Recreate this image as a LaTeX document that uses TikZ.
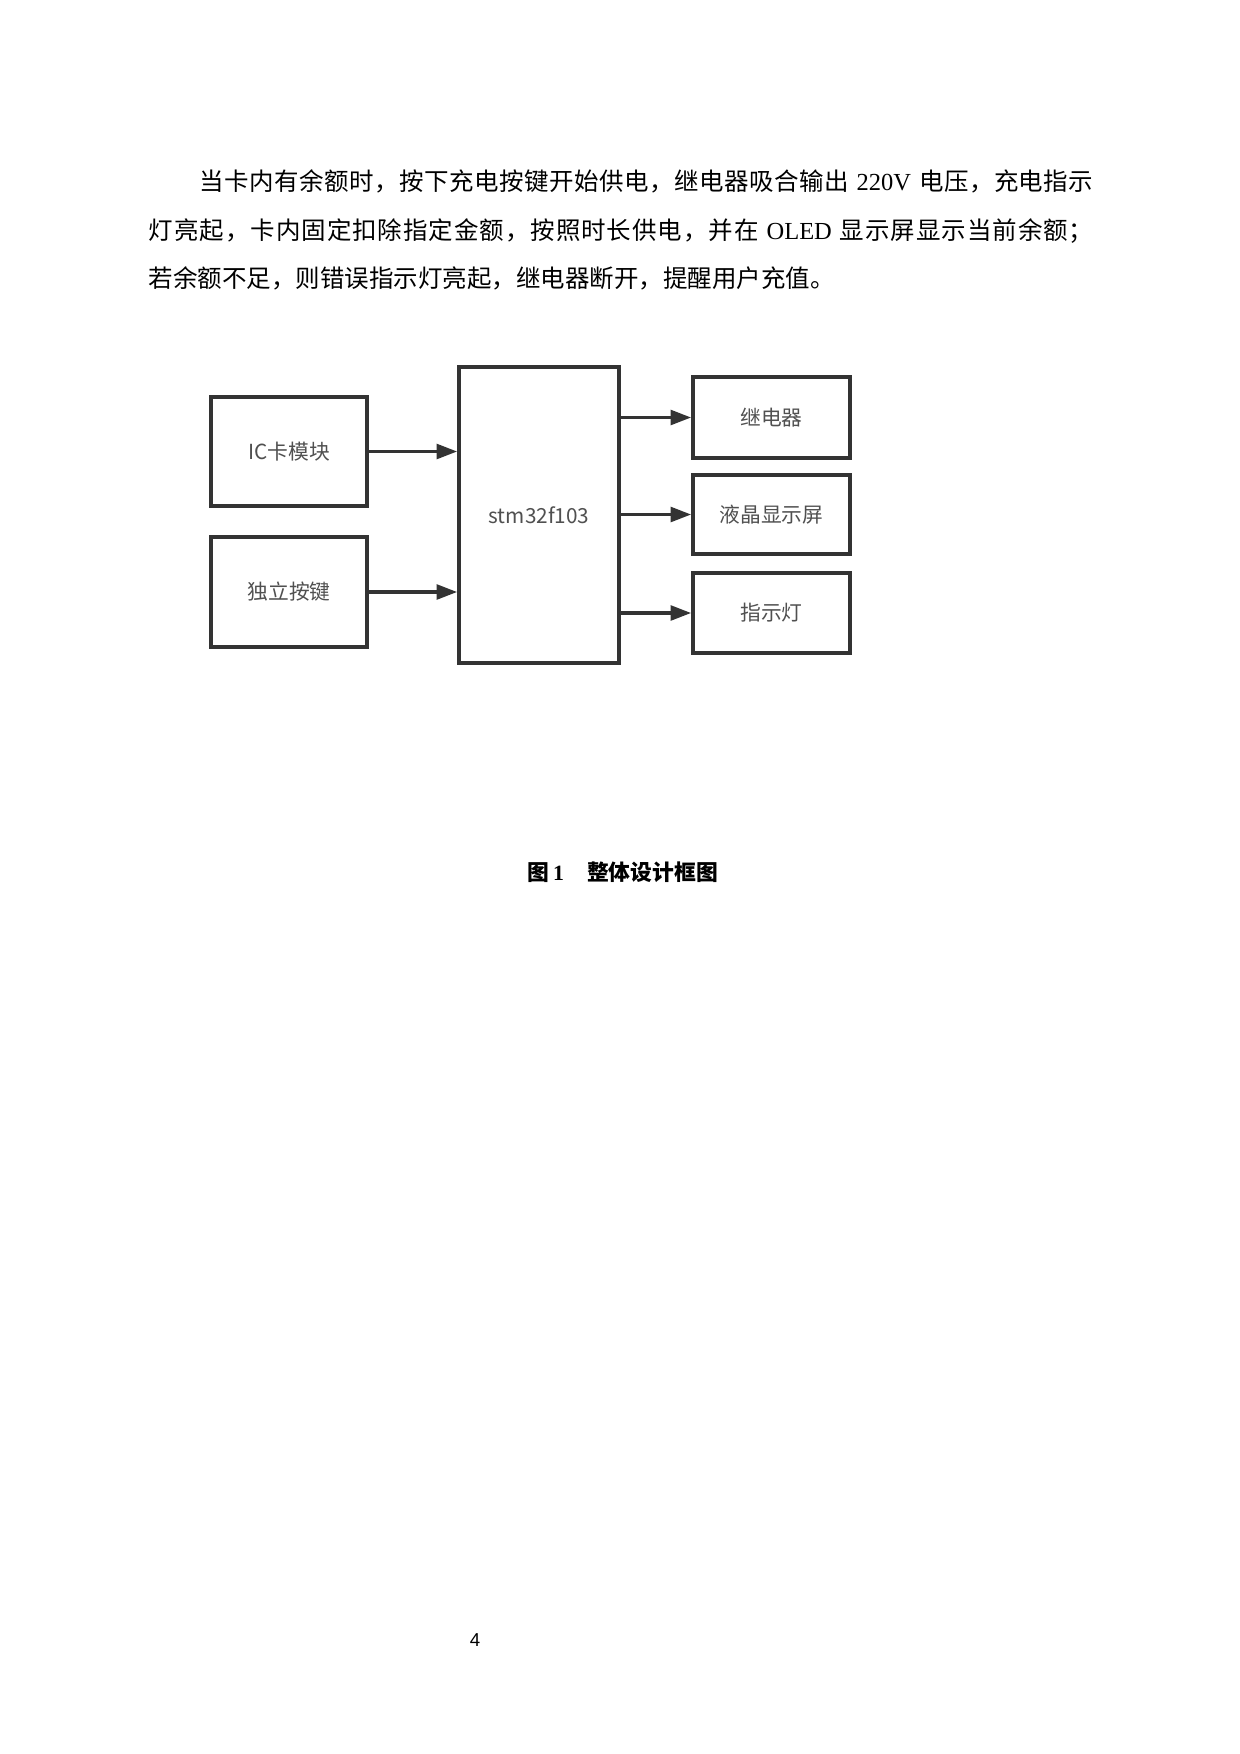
\documentclass[tikz,border=0pt]{standalone}
\usepackage{fontspec}
\setmainfont{Liberation Serif}
\newfontfamily\cjk{Noto Sans CJK SC}
\newfontfamily\lsans{Liberation Sans}
\usetikzlibrary{arrows.meta}
\definecolor{boxc}{HTML}{333333}
\definecolor{labc}{HTML}{505050}
\newlength\pxu
\setlength\pxu{0.16935mm}
\newcount\mycnt
\mycnt="4E00\relax
\loop\ifnum\mycnt<"A000\relax
  \XeTeXcharclass\mycnt=7\relax
  \advance\mycnt by 1\relax
\repeat
\XeTeXcharclass"FF0C=7\relax
\XeTeXcharclass"FF1B=7\relax
\XeTeXcharclass"3002=7\relax
\XeTeXinterchartoks 7 7 = {\hskip 0pt plus 1pt\relax}
\XeTeXinterchartokenstate=1\relax
\begin{document}
\begin{tikzpicture}[x=\pxu,y=-\pxu,
  box/.style={draw=boxc, line width=1.6pt, inner sep=0pt,
    font=\cjk\fontsize{10}{12}\selectfont, text=labc},
  arr/.style={draw=boxc, line width=1.9pt, -{Triangle[length=10pt,width=7pt]}},
  body/.style={anchor=base west, inner sep=0pt, font=\fontsize{11.8}{14}\selectfont}]
\fill[white] (0,0) rectangle (1240,1754);
\useasboundingbox (0,0) rectangle (1240,1754);
% body text
\node[body] (l1) at (199.5,190.8) {\hbox to 893.5\pxu{{\cjk 当卡内有余额时，按下充电按键开始供电，继电器吸合输出}\hspace{8\pxu}220V\hspace{8\pxu}{\cjk 电压，充电指示}}};
\node[body] (l2) at (148.5,239.1) {\hbox to 944.5\pxu{{\cjk 灯亮起，卡内固定扣除指定金额，按照时长供电，并在}\hspace{8\pxu}OLED\hspace{8\pxu}{\cjk 显示屏显示当前余额；}}};
\node[body] (l3) at (148.5,287.1) {\cjk 若余额不足，则错误指示灯亮起，继电器断开，提醒用户充值。};
% diagram
\node[box, minimum width=156\pxu, minimum height=109\pxu] (ic) at (289,451.5) {IC卡模块};
\node[box, minimum width=156\pxu, minimum height=110\pxu] (key) at (289,592) {独立按键};
\node[box, minimum width=160\pxu, minimum height=296\pxu] (stm) at (539,515) {stm32f103};
\node[box, minimum width=157\pxu, minimum height=81\pxu] (relay) at (771.5,417.5) {继电器};
\node[box, minimum width=157\pxu, minimum height=79\pxu] (lcd) at (771.5,514.5) {液晶显示屏};
\node[box, minimum width=157\pxu, minimum height=80\pxu] (led) at (771.5,613) {指示灯};
\draw[arr] (ic.east) -- (ic.east -| stm.west);
\draw[arr] (key.east) -- (key.east -| stm.west);
\draw[arr] (stm.east |- relay.west) -- (relay.west);
\draw[arr] (stm.east |- lcd.west) -- (lcd.west);
\draw[arr] (stm.east |- led.west) -- (led.west);
% caption
\node[anchor=base west, inner sep=0pt, font=\fontsize{10.5}{12}\selectfont] (cap) at (527,880) {{\cjk\bfseries 图}\hspace{4\pxu}\textbf{1}\hspace{23\pxu}{\cjk\bfseries 整体设计框图}};
% page number
\node[font=\lsans\fontsize{9}{10}\selectfont, inner sep=0pt] (pg) at (475,1640) {4};
\end{tikzpicture}
\end{document}
